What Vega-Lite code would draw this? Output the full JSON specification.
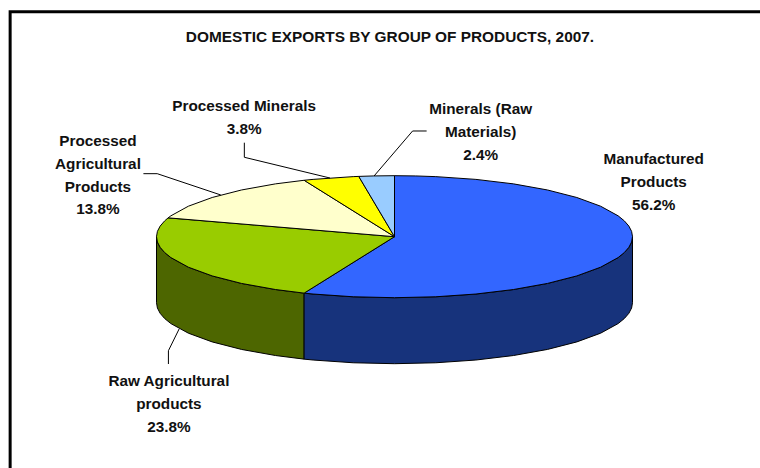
{
  "$schema": "https://vega.github.io/schema/vega-lite/v6.json",
  "width": 760,
  "height": 468,
  "autosize": {"type": "fit", "contains": "padding"},
  "padding": 0,
  "background": "white",
  "config": {"view": {"stroke": null}},
  "resolve": {"scale": {"fill": "independent"}},
  "datasets": {
    "border": [
      {"o": 0, "x": -161.5, "y": -379.18},
      {"o": 1, "x": -161.5, "y": 368.9},
      {"o": 2, "x": 153.57, "y": 368.9}
    ],
    "rim": [
      {"part": "Raw Agricultural products", "x": -100, "y": 0, "y2": -108.2},
      {"part": "Raw Agricultural products", "x": -99.62, "y": -8.72, "y2": -116.92},
      {"part": "Raw Agricultural products", "x": -98.48, "y": -17.36, "y2": -125.56},
      {"part": "Raw Agricultural products", "x": -96.59, "y": -25.88, "y2": -134.08},
      {"part": "Raw Agricultural products", "x": -93.97, "y": -34.2, "y2": -142.4},
      {"part": "Raw Agricultural products", "x": -86.6, "y": -50, "y2": -158.2},
      {"part": "Raw Agricultural products", "x": -76.6, "y": -64.28, "y2": -172.48},
      {"part": "Raw Agricultural products", "x": -64.28, "y": -76.6, "y2": -184.8},
      {"part": "Raw Agricultural products", "x": -50, "y": -86.6, "y2": -194.8},
      {"part": "Raw Agricultural products", "x": -37.98, "y": -92.51, "y2": -200.71},
      {"part": "Manufactured Products", "x": -37.98, "y": -92.51, "y2": -200.71},
      {"part": "Manufactured Products", "x": -34.2, "y": -93.97, "y2": -202.17},
      {"part": "Manufactured Products", "x": -17.36, "y": -98.48, "y2": -206.68},
      {"part": "Manufactured Products", "x": 0, "y": -100, "y2": -208.2},
      {"part": "Manufactured Products", "x": 17.36, "y": -98.48, "y2": -206.68},
      {"part": "Manufactured Products", "x": 34.2, "y": -93.97, "y2": -202.17},
      {"part": "Manufactured Products", "x": 50, "y": -86.6, "y2": -194.8},
      {"part": "Manufactured Products", "x": 64.28, "y": -76.6, "y2": -184.8},
      {"part": "Manufactured Products", "x": 76.6, "y": -64.28, "y2": -172.48},
      {"part": "Manufactured Products", "x": 86.6, "y": -50, "y2": -158.2},
      {"part": "Manufactured Products", "x": 93.97, "y": -34.2, "y2": -142.4},
      {"part": "Manufactured Products", "x": 96.59, "y": -25.88, "y2": -134.08},
      {"part": "Manufactured Products", "x": 98.48, "y": -17.36, "y2": -125.56},
      {"part": "Manufactured Products", "x": 99.62, "y": -8.72, "y2": -116.92},
      {"part": "Manufactured Products", "x": 100, "y": 0, "y2": -108.2}
    ],
    "wedges": [
      {"part": "Manufactured Products", "o": 0, "x": 0, "y": 0},
      {"part": "Manufactured Products", "o": 1, "x": 0, "y": 100},
      {"part": "Manufactured Products", "o": 2, "x": 8.72, "y": 99.62},
      {"part": "Manufactured Products", "o": 3, "x": 17.36, "y": 98.48},
      {"part": "Manufactured Products", "o": 4, "x": 34.2, "y": 93.97},
      {"part": "Manufactured Products", "o": 5, "x": 50, "y": 86.6},
      {"part": "Manufactured Products", "o": 6, "x": 64.28, "y": 76.6},
      {"part": "Manufactured Products", "o": 7, "x": 76.6, "y": 64.28},
      {"part": "Manufactured Products", "o": 8, "x": 86.6, "y": 50},
      {"part": "Manufactured Products", "o": 9, "x": 93.97, "y": 34.2},
      {"part": "Manufactured Products", "o": 10, "x": 96.59, "y": 25.88},
      {"part": "Manufactured Products", "o": 11, "x": 98.48, "y": 17.36},
      {"part": "Manufactured Products", "o": 12, "x": 99.62, "y": 8.72},
      {"part": "Manufactured Products", "o": 13, "x": 100, "y": 0},
      {"part": "Manufactured Products", "o": 14, "x": 99.62, "y": -8.72},
      {"part": "Manufactured Products", "o": 15, "x": 98.48, "y": -17.36},
      {"part": "Manufactured Products", "o": 16, "x": 96.59, "y": -25.88},
      {"part": "Manufactured Products", "o": 17, "x": 93.97, "y": -34.2},
      {"part": "Manufactured Products", "o": 18, "x": 86.6, "y": -50},
      {"part": "Manufactured Products", "o": 19, "x": 76.6, "y": -64.28},
      {"part": "Manufactured Products", "o": 20, "x": 64.28, "y": -76.6},
      {"part": "Manufactured Products", "o": 21, "x": 50, "y": -86.6},
      {"part": "Manufactured Products", "o": 22, "x": 34.2, "y": -93.97},
      {"part": "Manufactured Products", "o": 23, "x": 17.36, "y": -98.48},
      {"part": "Manufactured Products", "o": 24, "x": 0, "y": -100},
      {"part": "Manufactured Products", "o": 25, "x": -17.36, "y": -98.48},
      {"part": "Manufactured Products", "o": 26, "x": -34.2, "y": -93.97},
      {"part": "Manufactured Products", "o": 27, "x": -37.98, "y": -92.51},
      {"part": "Manufactured Products", "o": 28, "x": 0, "y": 0},
      {"part": "Raw Agricultural products", "o": 0, "x": 0, "y": 0},
      {"part": "Raw Agricultural products", "o": 1, "x": -37.98, "y": -92.51},
      {"part": "Raw Agricultural products", "o": 2, "x": -50, "y": -86.6},
      {"part": "Raw Agricultural products", "o": 3, "x": -64.28, "y": -76.6},
      {"part": "Raw Agricultural products", "o": 4, "x": -76.6, "y": -64.28},
      {"part": "Raw Agricultural products", "o": 5, "x": -86.6, "y": -50},
      {"part": "Raw Agricultural products", "o": 6, "x": -93.97, "y": -34.2},
      {"part": "Raw Agricultural products", "o": 7, "x": -96.59, "y": -25.88},
      {"part": "Raw Agricultural products", "o": 8, "x": -98.48, "y": -17.36},
      {"part": "Raw Agricultural products", "o": 9, "x": -99.62, "y": -8.72},
      {"part": "Raw Agricultural products", "o": 10, "x": -100, "y": 0},
      {"part": "Raw Agricultural products", "o": 11, "x": -99.62, "y": 8.72},
      {"part": "Raw Agricultural products", "o": 12, "x": -98.48, "y": 17.36},
      {"part": "Raw Agricultural products", "o": 13, "x": -96.59, "y": 25.88},
      {"part": "Raw Agricultural products", "o": 14, "x": -95.11, "y": 30.9},
      {"part": "Raw Agricultural products", "o": 15, "x": 0, "y": 0},
      {"part": "Processed Agricultural Products", "o": 0, "x": 0, "y": 0},
      {"part": "Processed Agricultural Products", "o": 1, "x": -95.11, "y": 30.9},
      {"part": "Processed Agricultural Products", "o": 2, "x": -93.97, "y": 34.2},
      {"part": "Processed Agricultural Products", "o": 3, "x": -86.6, "y": 50},
      {"part": "Processed Agricultural Products", "o": 4, "x": -76.6, "y": 64.28},
      {"part": "Processed Agricultural Products", "o": 5, "x": -64.28, "y": 76.6},
      {"part": "Processed Agricultural Products", "o": 6, "x": -50, "y": 86.6},
      {"part": "Processed Agricultural Products", "o": 7, "x": -37.98, "y": 92.51},
      {"part": "Processed Agricultural Products", "o": 8, "x": 0, "y": 0},
      {"part": "Processed Minerals", "o": 0, "x": 0, "y": 0},
      {"part": "Processed Minerals", "o": 1, "x": -37.98, "y": 92.51},
      {"part": "Processed Minerals", "o": 2, "x": -34.2, "y": 93.97},
      {"part": "Processed Minerals", "o": 3, "x": -17.36, "y": 98.48},
      {"part": "Processed Minerals", "o": 4, "x": -15.02, "y": 98.86},
      {"part": "Processed Minerals", "o": 5, "x": 0, "y": 0},
      {"part": "Minerals (Raw Materials)", "o": 0, "x": 0, "y": 0},
      {"part": "Minerals (Raw Materials)", "o": 1, "x": -15.02, "y": 98.86},
      {"part": "Minerals (Raw Materials)", "o": 2, "x": -8.72, "y": 99.62},
      {"part": "Minerals (Raw Materials)", "o": 3, "x": 0, "y": 100},
      {"part": "Minerals (Raw Materials)", "o": 4, "x": 0, "y": 0}
    ],
    "leaders": [
      {"part": "Processed Minerals", "o": 0, "x": -63.1, "y": 154.1},
      {"part": "Processed Minerals", "o": 1, "x": -63.1, "y": 130.2},
      {"part": "Processed Minerals", "o": 2, "x": -27.1, "y": 96.2},
      {"part": "Processed Agricultural Products", "o": 0, "x": -105.5, "y": 103.3},
      {"part": "Processed Agricultural Products", "o": 1, "x": -99.7, "y": 103.3},
      {"part": "Processed Agricultural Products", "o": 2, "x": -73, "y": 68.4},
      {"part": "Minerals (Raw Materials)", "o": 0, "x": 13.5, "y": 173.3},
      {"part": "Minerals (Raw Materials)", "o": 1, "x": 7.6, "y": 173.3},
      {"part": "Minerals (Raw Materials)", "o": 2, "x": -8.6, "y": 99.5},
      {"part": "Raw Agricultural products", "o": 0, "x": -95, "y": -208.7},
      {"part": "Raw Agricultural products", "o": 1, "x": -95, "y": -186.9},
      {"part": "Raw Agricultural products", "o": 2, "x": -90.5, "y": -151.3}
    ],
    "labels": [
      {"label": "Manufactured\nProducts\n56.2%", "x": 108.9, "y": 127.4},
      {"label": "Raw Agricultural\nproducts\n23.8%", "x": -94.8, "y": -236.5},
      {"label": "Processed\nAgricultural\nProducts\n13.8%", "x": -124.6, "y": 156.9},
      {"label": "Processed Minerals\n3.8%", "x": -63.2, "y": 214.3},
      {"label": "Minerals (Raw\nMaterials)\n2.4%", "x": 36.2, "y": 209.4}
    ],
    "heading": [
      {"label": "DOMESTIC EXPORTS BY GROUP OF PRODUCTS, 2007.", "x": -1.9, "y": 327.4}
    ]
  },
  "encoding": {
    "x": {"field": "x", "type": "quantitative", "axis": null, "scale": {"domain": [-165.76, 153.57], "nice": false, "zero": false}},
    "y": {"field": "y", "type": "quantitative", "axis": null, "scale": {"domain": [-379.18, 388.03], "nice": false, "zero": false}}
  },
  "layer": [
    {
      "data": {"name": "border"},
      "mark": {"type": "line", "stroke": "black", "strokeWidth": 3, "strokeJoin": "miter", "clip": true},
      "encoding": {"order": {"field": "o", "type": "ordinal"}}
    },
    {
      "data": {"name": "rim"},
      "mark": {"type": "area", "stroke": "black", "strokeWidth": 1},
      "encoding": {
        "y2": {"field": "y2"},
        "fill": {
          "field": "part",
          "type": "nominal",
          "legend": null,
          "scale": {"domain": ["Manufactured Products", "Raw Agricultural products"], "range": ["#17337C", "#4D6600"]}
        }
      }
    },
    {
      "data": {"name": "wedges"},
      "mark": {"type": "line", "filled": true, "stroke": "black", "strokeWidth": 1, "strokeJoin": "round"},
      "encoding": {
        "order": {"field": "o", "type": "quantitative"},
        "fill": {
          "field": "part",
          "type": "nominal",
          "legend": null,
          "scale": {
            "domain": ["Manufactured Products", "Raw Agricultural products", "Processed Agricultural Products", "Processed Minerals", "Minerals (Raw Materials)"],
            "range": ["#3366FF", "#99CC00", "#FFFFCC", "#FFFF00", "#99CCFF"]
          }
        }
      }
    },
    {
      "data": {"name": "leaders"},
      "mark": {"type": "line", "stroke": "black", "strokeWidth": 1},
      "encoding": {
        "detail": {"field": "part"},
        "order": {"field": "o", "type": "quantitative"}
      }
    },
    {
      "data": {"name": "labels"},
      "mark": {"type": "text", "font": "Liberation Sans", "fontWeight": "bold", "fontSize": 15.3, "lineBreak": "\n", "lineHeight": 22.8, "align": "center", "baseline": "middle", "color": "#111111"},
      "encoding": {"text": {"field": "label"}}
    },
    {
      "data": {"name": "heading"},
      "mark": {"type": "text", "font": "Liberation Sans", "fontWeight": "bold", "fontSize": 15.4, "align": "center", "baseline": "middle", "color": "#111111"},
      "encoding": {"text": {"field": "label"}}
    }
  ]
}
